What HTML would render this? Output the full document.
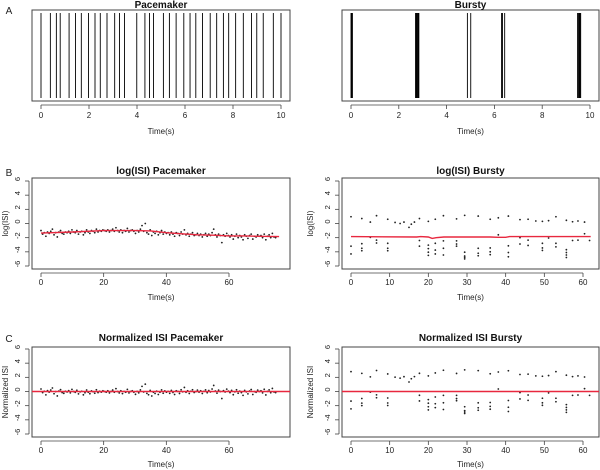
<!DOCTYPE html>
<html><head><meta charset="utf-8"><style>
html,body{margin:0;padding:0;background:#fff}
svg{display:block;font-family:"Liberation Sans",sans-serif}
</style></head><body>
<svg id="chart" width="600" height="470" viewBox="0 0 600 470" xmlns="http://www.w3.org/2000/svg"></svg>
<script>
// ---- data ----
const pacemakerSpikes=[0,0.39,0.64,0.80,1.17,1.44,1.68,1.98,2.25,2.47,2.75,3.07,3.27,3.48,3.99,4.33,4.52,4.69,5.10,5.35,5.63,5.95,6.21,6.45,6.73,7.05,7.32,7.60,7.82,8.11,8.43,8.77,8.99,9.26,9.68,10.0];
const burstySpikes=[0,0.02,0.04,0.06,2.70,2.73,2.76,2.79,2.82,2.84,4.87,5.01,6.30,6.34,6.43,9.48,9.52,9.55,9.58,9.61];
const pmLogISI=[-1.0,-1.5,-1.3,-1.8,-1.2,-1.4,-1.1,-0.8,-1.6,-1.3,-1.9,-1.2,-1.0,-1.4,-1.5,-1.2,-1.3,-1.1,-1.4,-0.9,-1.2,
-1.3,-1.0,-1.5,-1.2,-1.1,-1.6,-1.3,-0.9,-1.2,-1.4,-1.0,-1.1,-1.3,-0.8,-1.2,-1.0,-1.1,-0.9,-1.0,
-1.1,-0.9,-1.2,-1.0,-0.8,-1.1,-0.6,-1.0,-1.2,-0.9,-1.3,-1.0,-1.1,-0.7,-1.2,-1.0,-0.9,-1.1,-1.4,
-1.0,-1.2,-0.8,-0.3,-1.1,0.0,-1.3,-1.5,-0.9,-1.7,-1.2,-1.4,-1.1,-1.6,-1.3,-1.0,-1.5,-1.2,-1.4,
-1.3,-1.6,-1.2,-1.5,-1.8,-1.3,-1.4,-1.7,-1.2,-1.5,-0.9,-1.6,-1.4,-1.8,-1.5,-1.3,-1.7,-1.6,-1.4,
-1.7,-1.5,-1.9,-1.6,-1.4,-1.8,-1.5,-1.7,-1.3,-0.8,-1.6,-1.9,-1.5,-1.7,-2.7,-1.6,-1.8,-1.4,-1.7,
-1.9,-1.6,-2.2,-1.8,-1.5,-2.0,-1.7,-1.9,-2.3,-1.6,-1.8,-2.1,-1.7,-1.5,-2.2,-1.8,-1.9,-1.6,-1.8,
-1.7,-2.0,-1.5,-2.3,-1.8,-1.6,-2.0,-1.4,-1.9,-2.0];
const pmTimeStep=0.52;
const pmTrendT=[0,10,20,30,35,40,45,50,55,60,65,70,76];
const pmTrendV=[-1.35,-1.2,-1.0,-1.0,-1.05,-1.3,-1.45,-1.6,-1.65,-1.75,-1.75,-1.8,-1.85];
const buT=[0,0,0,2.8,2.8,2.8,2.8,5,5,6.6,6.6,6.6,9.5,9.5,9.5,9.5,11.4,12.7,13.7,15,15.6,16.4,17.7,17.7,17.7,
20,20,20,20,20,21.8,21.8,21.8,21.8,23.9,23.9,23.9,23.9,27.3,27.3,27.3,27.3,29.4,29.4,29.4,29.4,29.4,
32.9,32.9,32.9,32.9,36,36,36,36,38.1,38.1,40.7,40.7,40.7,40.7,43.7,43.7,43.7,45.8,45.8,45.8,47.8,
49.5,49.5,49.5,49.5,51.1,51.1,53,53,53,55.7,55.7,55.7,55.7,55.7,57.3,57.3,58.7,58.7,60.4,60.4,61.7];
const buLogISI=[0.95,-3.2,-4.3,0.7,-2.85,-3.5,-3.85,0.2,-1.95,1.1,-2.35,-2.75,0.6,-2.8,-3.5,-3.85,0.15,0,0.2,-0.55,-0.1,0.2,0.7,-2.4,-3.2,
0.3,-3.05,-3.55,-4.05,-4.5,0.6,-2.8,-3.75,-4.3,1.1,-2.45,-3.5,-4.45,0.65,-2.45,-2.9,-3.2,1.15,-4.05,-4.6,-4.8,-5.0,
1.05,-3.5,-4.2,-4.55,0.6,-3.45,-4.0,-4.4,0.8,-1.6,1.05,-3.15,-4.1,-4.7,0.55,-2.0,-2.9,0.6,-2.35,-3.1,0.35,
0.3,-2.8,-3.45,-3.8,0.4,-2.05,0.95,-2.8,-3.3,0.45,-3.7,-4.1,-4.45,-4.8,0.25,-2.4,0.35,-2.35,0.2,-1.45,-2.4];
const buTrendT=[0,17,18,20,21,22,24,30,36,38,40,41,50,62];
const buTrendV=[-1.85,-1.9,-1.85,-1.9,-2.1,-2.0,-1.9,-1.9,-1.9,-1.95,-1.95,-1.85,-1.85,-1.85];
const rasterTicks=[0,2,4,6,8,10];
const yTicks=[-6,-4,-2,0,2,4,6];
const pmTimeTicks=[0,20,40,60];
const buTimeTicks=[0,10,20,30,40,50,60];

const svg=document.getElementById('chart');
const NS='http://www.w3.org/2000/svg';
function mk(tag,attrs,parent){const e=document.createElementNS(NS,tag);for(const k in attrs)e.setAttribute(k,attrs[k]);(parent||svg).appendChild(e);return e;}
function txt(s,x,y,size,opts){const e=mk('text',Object.assign({x:x,y:y,'font-size':size,'text-anchor':'middle',fill:'#111'},opts||{}));e.textContent=s;return e;}
function interp(T,V,t){if(t<=T[0])return V[0];for(let i=1;i<T.length;i++){if(t<=T[i]){const f=(t-T[i-1])/(T[i]-T[i-1]);return V[i-1]+f*(V[i]-V[i-1]);}}return V[V.length-1];}
function lin(d0,d1,r0,r1){return v=>r0+(v-d0)*(r1-r0)/(d1-d0);}

function frame(g,b){mk('rect',{x:b[0],y:b[1],width:b[2]-b[0],height:b[3]-b[1],fill:'none',stroke:'#444','stroke-width':1},g);}
function xAxis(g,b,ticks,sx,labY,title,titleY){
  const y=b[3]+4;
  mk('line',{x1:sx(ticks[0]),x2:sx(ticks[ticks.length-1]),y1:y,y2:y,stroke:'#444','stroke-width':0.8},g);
  ticks.forEach(t=>{mk('line',{x1:sx(t),x2:sx(t),y1:y,y2:y+4,stroke:'#444','stroke-width':0.8},g);txt(String(t),sx(t),labY,8,{fill:'#222'});});
  const xt=txt(title,(b[0]+b[2])/2,titleY,8,{fill:'#222'});
  
}
function yAxis(g,b,sy,label,labX){
  const x=b[0]-3;
  mk('line',{x1:x,x2:x,y1:sy(6),y2:sy(-6),stroke:'#444','stroke-width':0.8},g);
  yTicks.forEach(t=>{mk('line',{x1:x,x2:x-4,y1:sy(t),y2:sy(t),stroke:'#444','stroke-width':0.8},g);
    const e=txt(String(t),x-10,sy(t)+3,7.5,{fill:'#222',transform:`rotate(-90 ${x-12} ${sy(t)})`});});
  const yl=txt(label,labX,(b[1]+b[3])/2,8,{fill:'#222',transform:`rotate(-90 ${labX} ${(b[1]+b[3])/2})`});
  
}
function title(s,b,y){const t=txt(s,(b[0]+b[2])/2,y,10,{'font-weight':'bold'});}

[['A',9,14],['B',9,176],['C',9,342]].forEach(l=>{const e=txt(l[0],l[1],l[2],10,{fill:'#222'});});

function raster(b,x0,x10,spikes,name,ttl){
  const g=mk('g',{});
  frame(g,b);const sx=lin(0,10,x0,x10);
  spikes.forEach(s=>{const l=mk('line',{x1:sx(s),x2:sx(s),y1:b[1]+3,y2:b[3]-3,stroke:'#000','stroke-width':0.9},g);});
  title(ttl,b,8);xAxis(g,b,rasterTicks,sx,118,'Time(s)',134);
}
raster([32,10,290,101],41,281,pacemakerSpikes,'raster-pacemaker','Pacemaker');
raster([342,10,599,101],351,590,burstySpikes,'raster-bursty','Bursty');

function scatter(b,xs,ts,vs,lineT,lineV,name,ttl,ticks,ylabel,ylabX,titleY,tickY,xtY,yTop,yBot){
  const g=mk('g',{});
  frame(g,b);const sy=lin(6,-6,yTop,yBot);
  ts.forEach((t,i)=>{const c=mk('circle',{cx:xs(t),cy:sy(vs[i]),r:0.9,fill:'#222'},g);});
  let d='';lineT.forEach((t,i)=>{const x=Math.max(b[0],Math.min(b[2],xs(t)));d+=(i?'L':'M')+x.toFixed(1)+' '+sy(lineV[i]).toFixed(1);});
  const p=mk('path',{d:d,fill:'none',stroke:'#e8283f','stroke-width':1.4},g);
  title(ttl,b,titleY);xAxis(g,b,ticks,xs,tickY,'Time(s)',xtY);yAxis(g,b,sy,ylabel,ylabX);
}
const pmT=pmLogISI.map((v,i)=>i*pmTimeStep);
const pmNorm=pmLogISI.map((v,i)=>v-interp(pmTrendT,pmTrendV,pmT[i]));
const buNorm=buLogISI.map((v,i)=>v-interp(buTrendT,buTrendV,buT[i]));
const sxPm=lin(0,60,41,229), sxBu=lin(0,60,351,583);
scatter([32,178,290,269],sxPm,pmT,pmLogISI,pmTrendT,pmTrendV,'log-isi-pacemaker','log(ISI) Pacemaker',pmTimeTicks,'log(ISI)',8,174,285,300,181,266);
scatter([342,178,599,269],sxBu,buT,buLogISI,buTrendT,buTrendV,'log-isi-bursty','log(ISI) Bursty',buTimeTicks,'log(ISI)',313,174,285,300,181,266);
scatter([32,347,290,437],sxPm,pmT,pmNorm,[-5,90],[0,0],'normalized-isi-pacemaker','Normalized ISI Pacemaker',pmTimeTicks,'Normalized ISI',8,341,453,467,349,434);
scatter([342,347,599,437],sxBu,buT,buNorm,[-5,70],[0,0],'normalized-isi-bursty','Normalized ISI Bursty',buTimeTicks,'Normalized ISI',313,341,453,467,349,434);
</script>
</body></html>
